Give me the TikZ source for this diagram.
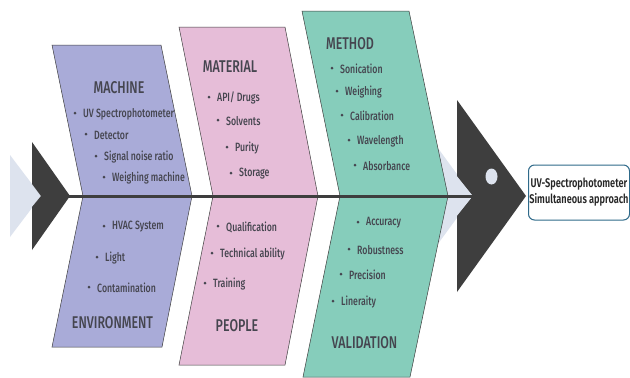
\documentclass[tikz,border=0pt]{standalone}
\usepackage{fontspec}
\setmainfont[FakeStretch=0.73,BoldFont={Fira Sans SemiBold}]{Fira Sans Medium}
\definecolor{machinefill}{HTML}{A9ABD8}
\definecolor{materialfill}{HTML}{E6BDD8}
\definecolor{methodfill}{HTML}{86CDBB}
\definecolor{tailfill}{HTML}{DDE3EE}
\definecolor{bonedark}{HTML}{3E3E3E}
\definecolor{inkgrey}{HTML}{45454F}
\definecolor{boxline}{HTML}{2F6A8A}
\tikzset{
  band/.style={draw=bonedark,line width=0.5pt,line join=miter},
  head/.style={text=inkgrey,font=\fontsize{17}{18}\selectfont,inner sep=0pt,anchor=center,yshift=-1pt},
  item/.style={text=inkgrey,font=\fontsize{12}{13}\selectfont,inner sep=0pt,anchor=west,yshift=-1pt},
  dot/.style={circle,fill=inkgrey,inner sep=0pt,minimum size=3pt},
  spine/.style={draw=bonedark,line width=3pt},
}
\newcommand{\bul}[4]{\node[dot] (d#1) at (#2-8,#3) {}; \node[item] (t#1) at (#2,#3) {#4};}
\begin{document}
\begin{tikzpicture}[x=1pt,y=-1pt]
\useasboundingbox (0,0) rectangle (630,378);
\fill[white] (0,0) rectangle (630,378);
% tail and head backing
\fill[tailfill] (10,155) -- (41,196) -- (10,237) -- cycle;
\fill[tailfill] (410,110) -- (473,196) -- (410,282) -- cycle;
% bands
\draw[band,fill=machinefill] (52,45) -- (161,45) -- (192,196) -- (162,347) -- (52,347) -- (83,196) -- cycle;
\draw[band,fill=materialfill] (179,27) -- (285,27) -- (318,196) -- (285,365) -- (179,365) -- (213,196) -- cycle;
\draw[band,fill=methodfill] (302,11) -- (409,11) -- (448,196) -- (410,377) -- (303,377) -- (340,196) -- cycle;
% tail and head
\fill[bonedark] (32,142) -- (70,196) -- (32,250) -- (32,207) -- (41,196) -- (32,184) -- cycle;
\fill[bonedark] (457,100) -- (526,196) -- (457,292) -- (457,216) -- (473,196) -- (457,176) -- cycle;
\fill[tailfill] (491.5,176.5) ellipse (6 and 8);
\coordinate (tailtip) at (68,196);
\coordinate (headnotch) at (473,196);
\draw[spine] (tailtip) -- (headnotch);
% result box
\node[draw=boxline,line width=1pt,fill=white,rounded corners=6pt,minimum width=101pt,minimum height=55pt,inner sep=0pt,
  align=center,font=\fontsize{12.6}{16}\selectfont\bfseries,text=black!85] (result) at (579,192.5) {UV-Spectrophotometer\\Simultaneous approach};
% labels
\node[head] (machine) at (119,87) {MACHINE};
\node[head] (material) at (230,66) {MATERIAL};
\node[head] (method) at (350,43) {METHOD};
\node[head] (environment) at (112.5,322) {ENVIRONMENT};
\node[head] (people) at (237,325) {PEOPLE};
\node[head] (validation) at (364.5,342) {VALIDATION};
\bul{a}{83}{113}{UV Spectrophotometer}
\bul{b}{94}{134}{Detector}
\bul{c}{104}{156}{Signal noise ratio}
\bul{e}{112}{177}{Weighing machine}
\bul{f}{217}{97}{API/ Drugs}
\bul{g}{226}{120}{Solvents}
\bul{h}{235}{147}{Purity}
\bul{i}{239}{173}{Storage}
\bul{j}{112}{226}{HVAC System}
\bul{k}{105}{257}{Light}
\bul{l}{97}{287}{Contamination}
\bul{m}{226}{226}{Qualification}
\bul{n}{220}{253}{Technical ability}
\bul{o}{213}{283}{Training}
\bul{p}{340}{68}{Sonication}
\bul{q}{345}{91}{Weighing}
\bul{r}{350}{115}{Calibration}
\bul{s}{357}{140}{Wavelength}
\bul{u}{363}{165}{Absorbance}
\bul{v}{366}{222}{Accuracy}
\bul{w}{357}{249}{Robustness}
\bul{x}{349}{274}{Precision}
\bul{y}{341}{301}{Lineraity}
\end{tikzpicture}
\end{document}
